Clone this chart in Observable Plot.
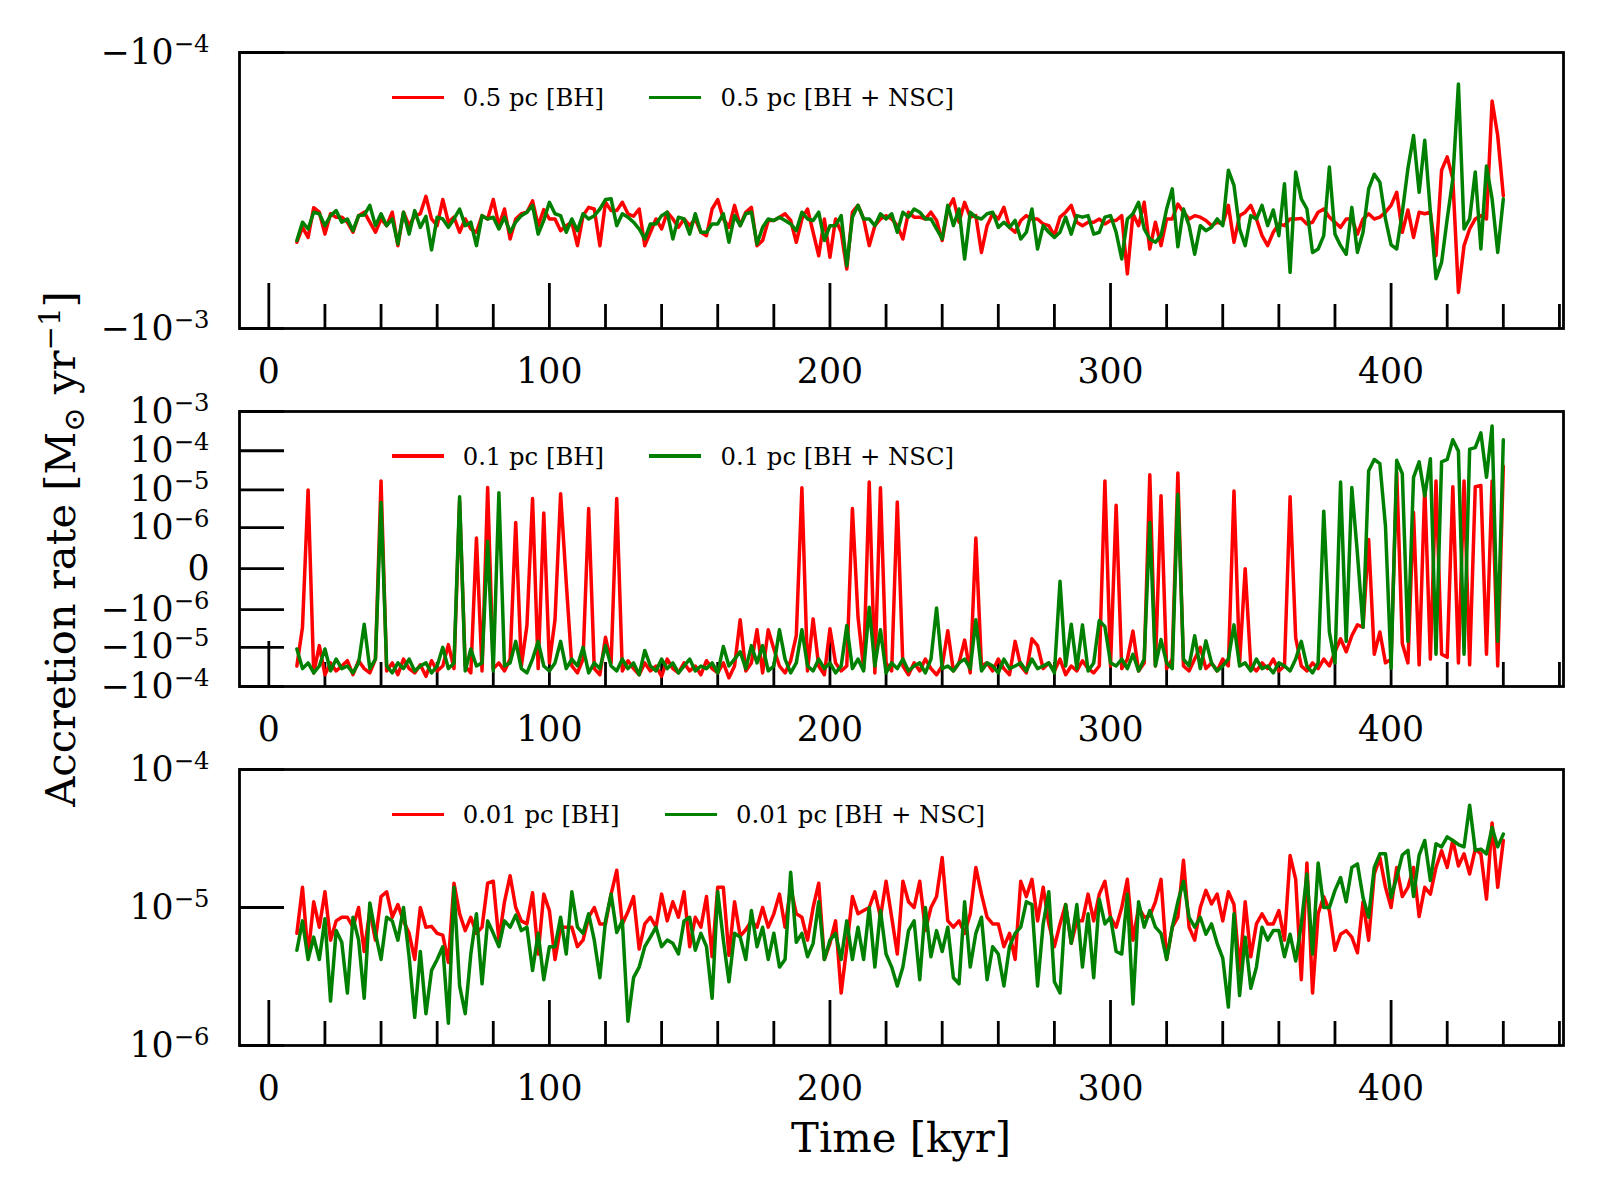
<!DOCTYPE html>
<html>
<head>
<meta charset="utf-8">
<script src="https://cdn.jsdelivr.net/npm/d3@7"></script>
<script src="https://cdn.jsdelivr.net/npm/@observablehq/plot@0.6"></script>
<style>
  body { margin: 0; background: white; }
  #fig { position: relative; width: 1600px; height: 1200px; background: white; font-family: "DejaVu Serif", serif; color: black; }
  .leg-line { position: absolute; height: 3.5px; }
  .leg-text { position: absolute; font-size: 24.3px; line-height: 30px; white-space: nowrap; }
  .axis-label { position: absolute; font-size: 41.7px; line-height: 1; white-space: nowrap; transform: translate(-50%, -50%); }
  .axis-label sub, .axis-label sup { font-size: 70%; line-height: 0; }
</style>
</head>
<body>
<div id="fig"></div>
<script>
// rates are in units of 1e-6 Msun/yr, one value every 2 kyr from 10 to 440 kyr
const UNIT = 1e-6;
const time = d3.range(10, 441, 2);

const xMajor = [0, 100, 200, 300, 400];
const xTickLabels = ["0", "100", "200", "300", "400"];
const xMinor = [20, 40, 60, 80, 120, 140, 160, 180, 220, 240, 260, 280, 320, 340, 360, 380, 420, 440, 460];

// 0.5 pc
const rate05BH = [
  -487,-430,-468,-365,-379,-455,-384,-395,-395,-412,
  -448,-390,-379,-412,-448,-401,-424,-379,-501,-379,
  -424,-390,-384,-332,-401,-424,-341,-412,-395,-448,
  -401,-436,-448,-390,-401,-341,-424,-369,-474,-401,
  -384,-379,-345,-424,-371,-401,-401,-442,-424,-412,
  -501,-390,-364,-369,-501,-349,-374,-374,-349,-384,
  -392,-369,-501,-448,-401,-436,-379,-401,-430,-401,
  -424,-401,-448,-461,-369,-341,-401,-430,-358,-424,
  -379,-364,-501,-480,-406,-406,-395,-384,-406,-487,
  -401,-369,-448,-545,-401,-552,-401,-448,-609,-379,
  -358,-401,-501,-424,-401,-390,-401,-424,-474,-379,
  -395,-395,-401,-379,-406,-480,-369,-339,-412,-349,
  -395,-390,-530,-424,-384,-401,-364,-430,-448,-406,
  -390,-401,-401,-418,-424,-461,-395,-379,-358,-412,
  -424,-412,-412,-401,-418,-406,-406,-390,-634,-384,
  -424,-349,-515,-412,-501,-401,-401,-354,-379,-401,
  -390,-395,-406,-424,-412,-418,-358,-487,-390,-379,
  -358,-401,-461,-501,-448,-418,-424,-401,-401,-399,
  -418,-412,-379,-369,-395,-412,-430,-401,-401,-455,
  -401,-384,-401,-395,-379,-358,-321,-448,-372,-468,
  -379,-384,-379,-545,-267,-239,-287,-740,-501,-436,
  -401,-390,-401,-150,-200,-330
];
const rate05NSC = [
  -480,-412,-436,-379,-384,-424,-390,-374,-412,-401,
  -442,-390,-388,-358,-424,-384,-424,-401,-494,-379,
  -455,-374,-430,-392,-519,-395,-401,-430,-401,-369,
  -424,-412,-501,-390,-401,-395,-436,-395,-448,-412,
  -390,-379,-358,-455,-406,-349,-384,-390,-448,-401,
  -442,-384,-401,-390,-369,-341,-339,-424,-384,-395,
  -412,-436,-474,-418,-418,-390,-379,-474,-395,-401,
  -455,-384,-448,-448,-418,-418,-384,-487,-390,-424,
  -384,-379,-494,-430,-401,-406,-395,-406,-418,-442,
  -379,-401,-406,-379,-480,-424,-424,-390,-592,-395,
  -358,-401,-401,-424,-384,-401,-384,-448,-379,-395,
  -369,-379,-401,-401,-436,-474,-358,-424,-369,-560,
  -379,-395,-401,-384,-379,-430,-412,-430,-406,-474,
  -448,-369,-515,-424,-448,-468,-448,-395,-455,-390,
  -395,-390,-455,-448,-395,-390,-448,-560,-401,-384,
  -349,-436,-474,-487,-461,-369,-312,-506,-369,-424,
  -538,-424,-442,-430,-401,-424,-267,-303,-436,-501,
  -390,-401,-358,-424,-372,-461,-299,-626,-271,-339,
  -369,-530,-515,-461,-260,-455,-501,-538,-364,-530,
  -448,-312,-276,-295,-401,-498,-515,-379,-263,-200,
  -321,-208,-379,-660,-576,-401,-287,-130,-436,-401,
  -271,-515,-258,-339,-530,-339
];

// 0.1 pc
const rate01BH = [
  -30,-3,10,-45,-9,-50,-25,-40,-30,-22,
  -50,-22,-35,-45,-20,17,-40,-25,-50,-20,
  -35,-45,-28,-55,-22,-40,-30,-8.5,-35,5,
  -30,-45,0.5,-40,11.5,-35,-25,-40,-20,1.4,
  -30,-2.7,6,-35,2.5,-25,-1.9,8,-0.12,-30,
  -45,-20,3.3,-35,-50,-5.5,-25,6,-40,-22,
  -35,-50,-25,-40,-30,-55,-20,-35,-45,-25,
  -40,-30,-50,-22,-35,-45,-25,-60,-30,-1.9,
  -40,-25,-3.5,-45,-3.5,-11,-30,-45,-22,-5,
  11.4,-40,-1.8,-30,-50,-3.3,-25,-40,-30,3.3,
  -1.6,-35,16,-45,11.4,-25,-40,4.9,-30,-50,
  -25,-40,-20,-35,-50,-30,-3.7,-40,-25,-6.5,
  -45,0.5,-30,-25,-40,-20,-35,-50,-7,-30,
  -45,-6,-9,-35,-25,-40,-20,-50,-30,-40,
  -22,-35,-45,-30,17,-30,4,-35,-20,-3.8,
  -40,-25,24.5,-30,7.1,-35,-20,27,-30,-40,
  -20,-10,-35,-25,-40,-20,-30,9.3,-25,0,
  -30,-40,-25,-35,-20,-40,-30,6.7,-5.7,-30,
  -40,-25,-35,-20,-30,-13,-6,-13,-5,-2.6,
  -3,0.45,-15,-4,-25,-20,28,-8,-25,2.6,
  -28,12,-20,17,-15,-18,12,-25,17,-28,
  12,13,-15,17,-30,40
];
const rate01NSC = [
  -11,-35,-25,-45,-30,-11,-40,-20,-35,-30,
  -45,-25,-2.5,-35,-20,4.7,-30,-45,-25,-35,
  -20,-40,-30,-25,-45,-30,-10,-35,-25,6.7,
  -40,-11,-30,-25,0.4,-40,8.5,-30,-25,-7,
  -35,-45,-20,-7,-30,-40,-25,-7,-35,-20,
  -30,-10,-45,-25,-35,-9,-30,-40,-20,-35,
  -25,-50,-12,-30,-40,-20,-35,-25,-45,-30,
  -20,-40,-30,-35,-25,-45,-9.5,-30,-20,-13,
  -35,-9,-25,-9,-40,-30,-3.5,-20,-45,-25,
  -3.5,-30,-40,-20,-35,-25,-45,-30,-2.7,-35,
  -20,-40,-0.86,-30,-3.5,-45,-25,-35,-20,-40,
  -30,-25,-45,-20,-0.9,-35,-30,-40,-25,-20,
  -35,-1.9,-40,-25,-30,-45,-20,-35,-30,-25,
  -40,-20,-35,-30,-25,-45,-0.11,-30,-2.5,-35,
  -2.6,-40,-25,-2,-2.9,-25,-30,-20,-35,-15,
  -40,-20,1.4,-30,-6.3,-25,-35,7.7,-20,-30,
  -5,-35,-6.8,-25,-40,-30,-20,-2.6,-30,-25,
  -40,-20,-35,-30,-45,-25,-30,-40,-20,-7,
  -30,-45,-25,2.8,-4,-25,16,-7,11.5,0.14,
  -3,31,60,47,1.1,-34,57,26,-7,21,
  52,7,63,-15,52,60,191,98,-15,110,
  120,286,21,428,-7,191
];

// 0.01 pc
const rate001BH = [
  6.5,14,4.5,11,7.2,13,5.8,8,8.5,8.5,
  7.2,10,4.8,9.5,5.8,12,13,8.5,10.5,8,
  6.5,4.2,10,7.2,7.3,6.5,6.3,4,15,9,
  6.8,8.5,6.5,7.2,15,15.5,5.8,11,17,10,
  8,7.6,12.8,4.6,12.5,9.5,4.2,7.2,7.2,7.2,
  5.2,5.8,8.5,10,7.6,7.6,12.5,18.6,7.6,9.3,
  12,5,7.6,8.5,7.2,12.5,8,11,8.5,13,
  5.2,8.5,7.2,12,4.4,14,14,4.5,11,6.2,
  6.9,8,7.2,10,7.2,9,12.5,7.2,14,9,
  8.5,5.8,10,15,4.2,5.5,8,2.4,5.2,12,
  9,9.5,10,13,8.5,15.5,8.5,4.6,15.5,11,
  10,15.5,6.8,10,12,23,8,7.2,8,6.5,
  9,19.5,12.5,8.5,7.6,7.6,5.2,6.5,4.2,15.5,
  12,16,8,14,7.6,5.2,7.6,10.5,5.5,8,
  8,12.5,8,12.5,15.5,8.5,7.2,10,16,5.8,
  10,8.5,8.7,11,16,4.2,7.2,8.5,22,7.2,
  5.8,10,13.3,10.6,12.5,8,13,10.5,3.5,11,
  4.4,7.6,9,7.6,7.6,9.5,5.8,23.8,16,3,
  21,2.4,9,12,9.5,4.9,6.4,6.8,6.1,4.7,
  11,5.8,17.5,23,14,10,19.5,12,14,19.5,
  8.6,14,12.5,19.5,25.8,19.5,30.6,20,24.5,17.5,
  26.5,24.5,11.5,41,14,30.6
];
const rate001NSC = [
  4.9,8,4.2,6.1,4.2,8.3,2.1,6.8,5.6,2.4,
  8.5,5.8,2.2,10.8,6.5,4.2,8.5,8,5.8,10,
  4.4,1.6,4.8,1.7,3.5,4.2,5.2,1.45,14,2.7,
  1.7,4.6,9,2.8,8,6.5,5.2,8,7.2,8.8,
  6.8,7.2,3.5,6.5,3,5.2,5.2,8.5,4.6,13,
  7.2,6.5,9,5.8,3.1,8,12.5,6.6,8,1.5,
  3.1,3.7,5.2,6.1,7.2,5.2,5.8,5.5,4.6,8,
  8.5,4.9,6.5,5.2,2.2,13,5.8,2.9,6.5,6.1,
  4.2,9.5,5.2,7.2,4.2,6.5,3.7,4.2,18,5.6,
  6.5,4.4,5.5,11,4.2,5.8,6.5,4.2,8,4.2,
  7.2,4.2,10,3.7,9.5,4.6,3.7,2.7,3.7,6.8,
  8,3,10,4.4,6.8,4.8,7.2,3.1,2.8,11,
  3.7,6.5,8.5,3,5.2,4.6,2.7,5.2,6.5,7.2,
  11,10.5,2.7,7.6,13,2.9,2.4,10.5,5.5,10.5,
  3.7,9,3.1,11.5,7.6,8.5,4.8,4.6,12.5,2,
  11,7.2,9.5,7.2,6.5,4.2,7.2,11,15.5,8.5,
  7.2,8.5,6.4,7.6,5.5,4.3,1.9,9,2.3,6.1,
  2.6,3.7,7.2,5.8,6.8,6.8,4.4,6.4,4.1,7.6,
  17.5,4.6,21,10,10,13.3,16.5,11,19.5,20.7,
  11.8,8.5,19.5,24.5,24.5,11.8,16.5,24,26,12,
  24,30.6,15.7,29,27.5,32.5,30.6,28.6,27.5,55,
  26,26.5,24.5,38,27.5,34
];

// y ticks and their labels per panel
const yTicks05 = [-1e-4, -1e-3];
const yLabels05 = ["−10⁻⁴", "−10⁻³"];
const yTicks01 = [1e-3, 1e-4, 1e-5, 1e-6, 0, -1e-6, -1e-5, -1e-4];
const yLabels01 = ["10⁻³", "10⁻⁴", "10⁻⁵", "10⁻⁶", "0", "−10⁻⁶", "−10⁻⁵", "−10⁻⁴"];
const yTicks001 = [1e-4, 1e-5, 1e-6];
const yLabels001 = ["10⁻⁴", "10⁻⁵", "10⁻⁶"];

const legend05 = ["0.5 pc [BH]", "0.5 pc [BH + NSC]"];
const legend01 = ["0.1 pc [BH]", "0.1 pc [BH + NSC]"];
const legend001 = ["0.01 pc [BH]", "0.01 pc [BH + NSC]"];

const fig = document.getElementById("fig");
const W = 1600, ML = 239, MR = 37, MT = 30, MB = 70;
const xDomain = [-10.45, 461.45];

// draw "10⁻⁴"-style labels like matplotlib mathtext: smaller, raised exponent
const supChars = "⁻⁰¹²³⁴⁵⁶⁷⁸⁹", plainChars = "−0123456789";
function raiseExponents(svg) {
  d3.select(svg).selectAll("text").each(function() {
    const s = this.textContent;
    const m = s.match(/^([^⁻⁰¹²³⁴⁵⁶⁷⁸⁹]+)([⁻⁰¹²³⁴⁵⁶⁷⁸⁹]+)$/);
    if (!m) return;
    const exp = [...m[2]].map(c => plainChars[supChars.indexOf(c)]).join("");
    const t = d3.select(this);
    t.text(null);
    t.append("tspan").text(m[1]);
    t.append("tspan").attr("dy", -12).attr("font-size", 24.3).text(exp);
  });
}

function panel({top, plotH, y, yTicks, yLabels, bh, nsc, legend, leg}) {
  const plotW = W - ML - MR;
  const rows = time.map((t, i) => ({t, bh: bh[i] * UNIT, nsc: nsc[i] * UNIT}));
  const svg = Plot.plot({
    width: W,
    height: MT + plotH + MB,
    marginTop: MT, marginBottom: MB, marginLeft: ML, marginRight: MR,
    x: {domain: xDomain, axis: null},
    y: {...y, axis: null},
    style: {background: "none", overflow: "visible", fontFamily: "'DejaVu Serif', serif", fontSize: "34.7px", color: "black"},
    marks: [
      Plot.ruleX(xMinor, {x: d => d, insetTop: plotH - 24, strokeWidth: 2.8}),
      Plot.ruleX(xMajor, {x: d => d, insetTop: plotH - 45, strokeWidth: 2.8}),
      Plot.ruleY(yTicks, {y: d => d, insetRight: plotW - 45, strokeWidth: 2.8}),
      Plot.line(rows, {x: "t", y: "bh", stroke: "red", strokeWidth: 3.5}),
      Plot.line(rows, {x: "t", y: "nsc", stroke: "green", strokeWidth: 3.5}),
      Plot.frame({strokeWidth: 2.8}),
      Plot.text(xMajor, {x: d => d, text: xTickLabels, frameAnchor: "bottom", dy: 54, fontSize: 34.7}),
      Plot.text(yTicks, {y: d => d, text: yLabels, frameAnchor: "left", textAnchor: "end", dx: -30, fontSize: 34.7})
    ]
  });
  raiseExponents(svg);
  svg.style.position = "absolute";
  svg.style.left = "0px";
  svg.style.top = (top - MT) + "px";
  fig.append(svg);

  // legend inside the panel, near its top
  const ly = top + 45;
  [["red", legend[0], leg[0], leg[1]], ["green", legend[1], leg[2], leg[3]]].forEach(([color, label, x0, tx]) => {
    const line = document.createElement("div");
    line.className = "leg-line";
    Object.assign(line.style, {left: x0 + "px", top: (ly - 1.75) + "px", width: "52px", background: color});
    fig.append(line);
    const txt = document.createElement("div");
    txt.className = "leg-text";
    txt.textContent = label;
    Object.assign(txt.style, {left: tx + "px", top: (ly - 14) + "px"});
    fig.append(txt);
  });
}

panel({top: 52.3, plotH: 276, y: {type: "log", domain: [-1e-3, -1e-4]},
  yTicks: yTicks05, yLabels: yLabels05, bh: rate05BH, nsc: rate05NSC,
  legend: legend05, leg: [392, 462.7, 649, 720.5]});
panel({top: 411, plotH: 275, y: {type: "symlog", constant: 1e-7, domain: [-1e-4, 1e-3]},
  yTicks: yTicks01, yLabels: yLabels01, bh: rate01BH, nsc: rate01NSC,
  legend: legend01, leg: [392, 462.7, 649, 720.5]});
panel({top: 769.3, plotH: 276, y: {type: "log", domain: [1e-6, 1e-4]},
  yTicks: yTicks001, yLabels: yLabels001, bh: rate001BH, nsc: rate001NSC,
  legend: legend001, leg: [392, 462.7, 665, 736]});

const ylab = document.createElement("div");
ylab.className = "axis-label";
ylab.innerHTML = "Accretion rate [M<sub>⊙</sub> yr<sup>−1</sup>]";
Object.assign(ylab.style, {left: "61px", top: "548.5px", transform: "translate(-50%, -50%) rotate(-90deg)"});
fig.append(ylab);

const xlab = document.createElement("div");
xlab.className = "axis-label";
xlab.textContent = "Time [kyr]";
Object.assign(xlab.style, {left: "901px", top: "1138px"});
fig.append(xlab);
</script>
</body>
</html>
